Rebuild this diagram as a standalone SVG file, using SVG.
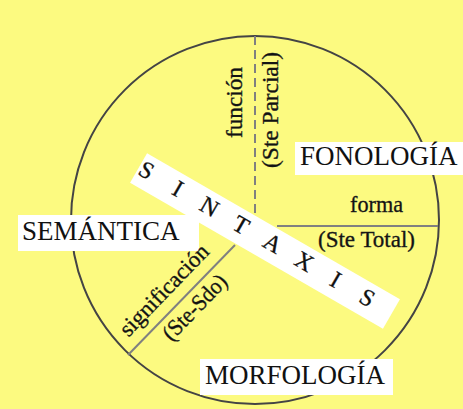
<svg xmlns="http://www.w3.org/2000/svg" width="463" height="409" viewBox="0 0 463 409">
<style>
.lbl{font-family:"Liberation Serif","Times New Roman",serif;fill:#111}
.big{font-size:27px}
.small{font-size:23px;stroke:#222;stroke-width:0.35}
.box{fill:#fff}
.line{stroke:#808080;stroke-width:2;fill:none}
</style>
<rect width="463" height="409" fill="#FCFA80"/>
<g id="circle">
<circle cx="255" cy="220" r="184" fill="none" stroke="#444" stroke-width="2"/>
</g>
<g id="connectors">
<line class="line" x1="255" y1="36" x2="255" y2="213" stroke-dasharray="9,5"/>
<line class="line" x1="277" y1="226" x2="438" y2="226"/>
<line class="line" x1="235" y1="245" x2="128" y2="355"/>
</g>
<g id="sintaxis" transform="translate(265,241) rotate(30)">
<rect class="box" x="-146" y="-17" width="292" height="34"/>
<text class="lbl" font-size="24" stroke="#111" stroke-width="0.3" text-anchor="middle" y="6" x="-138 -101.6 -65.1 -28.7 7.7 44.2 80.6 117">SINTAXIS</text>
</g>
<g id="semantica">
<rect class="box" x="18" y="215" width="181" height="36"/>
<text class="lbl big" x="22" y="240">SEMÁNTICA</text>
</g>
<g id="fonologia">
<rect class="box" x="295" y="142" width="168" height="33"/>
<text class="lbl big" x="300" y="165">FONOLOGÍA</text>
</g>
<g id="morfologia">
<rect class="box" x="200" y="359" width="193" height="36"/>
<text class="lbl big" x="205" y="384">MORFOLOGÍA</text>
</g>
<g id="funcion">
<text class="lbl small" transform="translate(242,102.5) rotate(-90)" x="-35.5" textLength="71" lengthAdjust="spacingAndGlyphs">función</text>
</g>
<g id="ste-parcial">
<text class="lbl small" transform="translate(278,110) rotate(-90)" x="-58" textLength="116" lengthAdjust="spacingAndGlyphs">(Ste Parcial)</text>
</g>
<g id="forma">
<text class="lbl small" x="350" y="212" textLength="53" lengthAdjust="spacingAndGlyphs">forma</text>
</g>
<g id="ste-total">
<text class="lbl small" x="318" y="247" textLength="97" lengthAdjust="spacingAndGlyphs">(Ste Total)</text>
</g>
<g id="significacion" transform="translate(181.5,300) rotate(-46)">
<text class="lbl small" x="-64" y="-12" textLength="118" lengthAdjust="spacingAndGlyphs">significación</text>
</g>
<g id="ste-sdo" transform="translate(181.5,300) rotate(-46)">
<text class="lbl small" x="-37" y="22" textLength="82" lengthAdjust="spacingAndGlyphs">(Ste-Sdo)</text>
</g>
</svg>
